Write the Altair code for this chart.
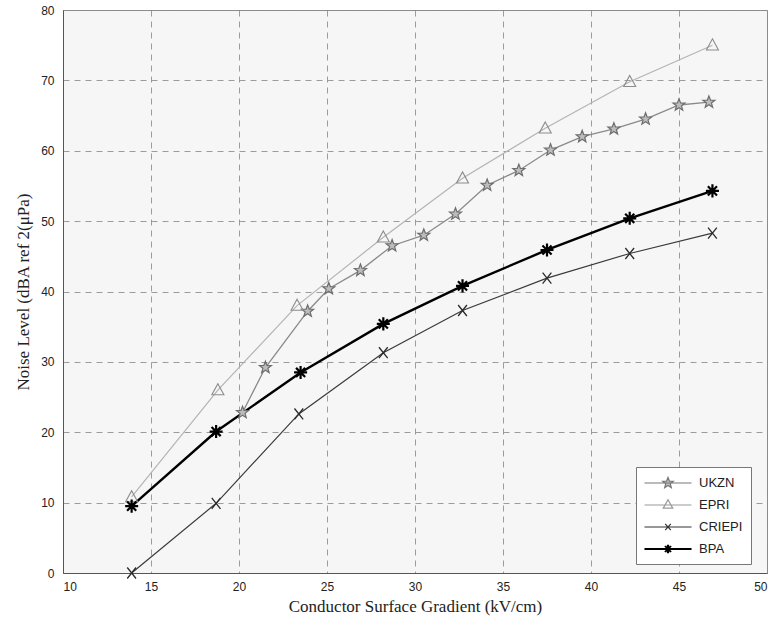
import altair as alt
import pandas as pd

series_names = ["UKZN", "EPRI", "CRIEPI", "BPA"]

ukzn_x = [20.2, 21.5, 23.9, 25.1, 26.9, 28.7, 30.5, 32.3, 34.1, 35.9, 37.7, 39.5, 41.3, 43.1, 45.0, 46.7]
ukzn_y = [22.8, 29.2, 37.2, 40.4, 43.0, 46.5, 48.0, 51.0, 55.1, 57.2, 60.1, 62.0, 63.1, 64.5, 66.5, 66.9]

epri_x = [13.9, 18.8, 23.3, 28.2, 32.7, 37.4, 42.2, 46.9]
epri_y = [10.8, 26.0, 38.0, 47.7, 56.1, 63.2, 69.8, 75.0]

criepi_x = [13.9, 18.7, 23.4, 28.2, 32.7, 37.5, 42.2, 46.9]
criepi_y = [0.0, 9.9, 22.6, 31.3, 37.3, 41.9, 45.4, 48.3]

bpa_x = [13.9, 18.7, 23.5, 28.2, 32.7, 37.5, 42.2, 46.9]
bpa_y = [9.5, 20.1, 28.5, 35.4, 40.8, 45.9, 50.4, 54.3]

x_ticks = [10, 15, 20, 25, 30, 35, 40, 45, 50]
y_ticks = [0, 10, 20, 30, 40, 50, 60, 70, 80]

# styles (per series)
line_colors = ["#8a8a8a", "#b4b4b4", "#3a3a3a", "#000000"]
marker_colors = ["#6e6e6e", "#8c8c8c", "#2a2a2a", "#000000"]
marker_fills = ["#bdbdbd", "transparent", "transparent", "#000000"]
line_widths = {"UKZN": 1.3, "EPRI": 1.2, "CRIEPI": 1.2, "BPA": 2.4}
marker_widths = {"UKZN": 1.2, "EPRI": 1.1, "CRIEPI": 1.3, "BPA": 2.2}
marker_sizes = {"UKZN": 160, "EPRI": 160, "CRIEPI": 120, "BPA": 170}

rows = []
for name, xs, ys in [("UKZN", ukzn_x, ukzn_y), ("EPRI", epri_x, epri_y),
                     ("CRIEPI", criepi_x, criepi_y), ("BPA", bpa_x, bpa_y)]:
    for i, (xv, yv) in enumerate(zip(xs, ys)):
        rows.append({"series": name, "x": xv, "y": yv, "order": i,
                     "lw": line_widths[name], "mw": marker_widths[name], "ms": marker_sizes[name]})
df = pd.DataFrame(rows)

star = ("M0,-1L0.245,-0.337L0.951,-0.309L0.396,0.129L0.588,0.809L0,0.417"
        "L-0.588,0.809L-0.396,0.129L-0.951,-0.309L-0.245,-0.337Z")
tri = "M0,-1L0.95,0.75L-0.95,0.75Z"
cross = "M-0.8,-1L0.8,1M-0.8,1L0.8,-1"
aster = "M-1,0L1,0M0,-1L0,1M-0.7,-0.7L0.7,0.7M-0.7,0.7L0.7,-0.7"

seg = "M-3.36,0L3.36,0"
lg_star = seg + ("M0,-0.8L0.2,-0.275L0.761,-0.247L0.323,0.105L0.47,0.647L0,0.34"
                 "L-0.47,0.647L-0.323,0.105L-0.761,-0.247L-0.2,-0.275Z")
lg_tri = seg + "M0,-0.75L0.68,0.45L-0.68,0.45Z"
lg_cross = seg + "M-0.4,-0.45L0.4,0.45M-0.4,0.45L0.4,-0.45"
lg_aster = ("M-3.36,-0.06L3.36,-0.06M-3.36,0.06L3.36,0.06"
            "M-0.07,-0.6L-0.07,0.6M0.07,-0.6L0.07,0.6"
            "M-0.47,-0.4L0.37,0.44M-0.37,-0.44L0.47,0.4"
            "M-0.47,0.4L0.37,-0.44M-0.37,0.44L0.47,-0.4")

xenc = alt.X("x:Q", scale=alt.Scale(domain=[10, 50], nice=False),
             axis=alt.Axis(values=x_ticks, title="Conductor Surface Gradient (kV/cm)"))
yenc = alt.Y("y:Q", scale=alt.Scale(domain=[0, 80], nice=False),
             axis=alt.Axis(values=y_ticks, title="Noise Level (dBA ref 2(μPa)"))

lines = alt.Chart(df).mark_line().encode(
    x=xenc, y=yenc,
    color=alt.Color("series:N", scale=alt.Scale(domain=series_names, range=line_colors), legend=None),
    strokeWidth=alt.StrokeWidth("lw:Q", scale=None),
    detail="series:N",
    order="order:Q",
)

points = alt.Chart(df).mark_point(filled=False, opacity=1).encode(
    x=xenc, y=yenc,
    shape=alt.Shape("series:N", scale=alt.Scale(domain=series_names, range=[star, tri, cross, aster]), legend=None),
    color=alt.Color("series:N", scale=alt.Scale(domain=series_names, range=marker_colors), legend=None),
    fill=alt.Fill("series:N", scale=alt.Scale(domain=series_names, range=marker_fills), legend=None),
    strokeWidth=alt.StrokeWidth("mw:Q", scale=None),
    size=alt.Size("ms:Q", scale=None),
)

legend_layer = alt.Chart(df).transform_filter("datum.x > 1000").mark_point(filled=False, opacity=1).encode(
    x=xenc, y=yenc,
    shape=alt.Shape("series:N", scale=alt.Scale(domain=series_names, range=[lg_star, lg_tri, lg_cross, lg_aster]),
                    legend=alt.Legend(title=None)),
    color=alt.Color("series:N", scale=alt.Scale(domain=series_names, range=["#777777", "#999999", "#333333", "#000000"]),
                    legend=alt.Legend(title=None)),
    fill=alt.Fill("series:N", scale=alt.Scale(domain=series_names, range=["#c0c0c0", "transparent", "transparent", "#000000"]),
                  legend=alt.Legend(title=None)),
)

chart = alt.layer(lines, points, legend_layer).resolve_scale(
    color="independent", shape="independent", fill="independent"
).properties(
    width=704, height=563,
    autosize=alt.AutoSizeParams(type="none"),
    padding={"left": 63, "top": 10, "right": 12, "bottom": 58},
    background="white",
).configure_view(
    fill="#f6f6f6", stroke="#8a8a8a", strokeWidth=1
).configure_axis(
    grid=True, gridColor="#8c8c8c", gridDash=[6, 5], gridWidth=1, gridOpacity=0.85,
    domainColor="#555555", domainWidth=1, ticks=False,
    labelFont="Liberation Sans", labelFontSize=12, labelColor="#222222",
    titleFont="Liberation Serif", titleFontSize=17, titleFontWeight="normal", titleColor="#222222",
).configure_axisX(
    labelPadding=8, titlePadding=6,
).configure_axisY(
    labelPadding=9, titlePadding=8,
).configure_legend(
    orient="none", legendX=573, legendY=457,
    padding=8, strokeColor="#777777", fillColor="white",
    labelFont="Liberation Sans", labelFontSize=13, labelColor="#222222",
    symbolSize=196, symbolStrokeWidth=1.2, rowPadding=7, labelOffset=23, symbolOffset=16,
)

chart.save("out.html", embed_options={"renderer": "svg", "actions": False})
